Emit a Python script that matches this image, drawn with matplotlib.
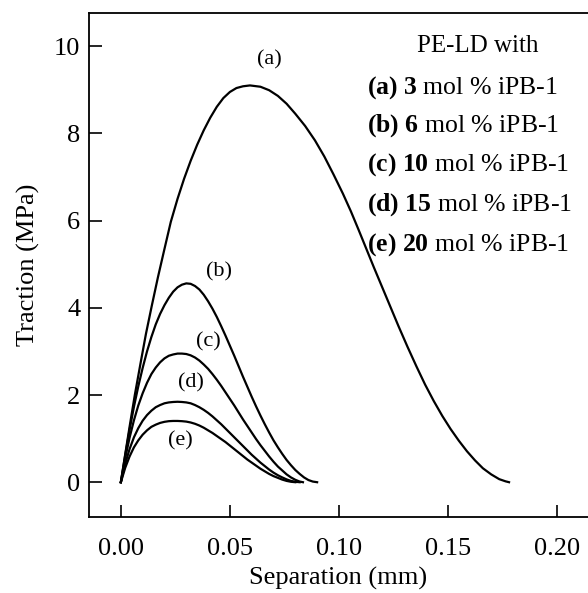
import matplotlib
matplotlib.use("Agg")
import matplotlib.pyplot as plt

plt.rcParams['font.family'] = ['Liberation Serif', 'DejaVu Serif']
plt.rcParams['mathtext.fontset'] = 'custom'
plt.rcParams['mathtext.rm'] = 'Liberation Serif'
plt.rcParams['mathtext.bf'] = 'Liberation Serif:bold'

# separation (mm) and traction (MPa)
sep_a = [0, 0.002, 0.004, 0.0064, 0.009, 0.0115, 0.0142, 0.017, 0.020, 0.0229, 0.026, 0.029,
         0.032, 0.035, 0.038, 0.041, 0.044, 0.047, 0.050, 0.053, 0.056, 0.0592, 0.064, 0.068,
         0.072, 0.076, 0.080, 0.0845, 0.089, 0.0933, 0.0975, 0.1018, 0.1055, 0.109, 0.1125, 0.116,
         0.1196, 0.1232, 0.1273, 0.1314, 0.1355, 0.1395, 0.1435, 0.1474, 0.1512, 0.155, 0.1587,
         0.1624, 0.166, 0.1698, 0.1735, 0.1764, 0.178]
trac_a = [0, 0.64, 1.27, 2.0, 2.72, 3.4, 4.05, 4.7, 5.35, 5.97, 6.5, 6.96,
          7.37, 7.74, 8.07, 8.36, 8.61, 8.81, 8.95, 9.04, 9.08, 9.10, 9.07, 8.99,
          8.86, 8.68, 8.45, 8.17, 7.84, 7.47, 7.06, 6.62, 6.21, 5.79, 5.36, 4.93,
          4.50, 4.07, 3.58, 3.11, 2.66, 2.24, 1.86, 1.52, 1.22, 0.95, 0.71,
          0.50, 0.32, 0.18, 0.07, 0.02, 0.0]

sep_b = [0, 0.002, 0.004, 0.006, 0.008, 0.010, 0.012, 0.014, 0.016, 0.018, 0.020, 0.022,
         0.024, 0.026, 0.028, 0.030, 0.032, 0.034, 0.036, 0.038, 0.040, 0.042, 0.044, 0.046,
         0.048, 0.050, 0.052, 0.054, 0.056, 0.058, 0.060, 0.062, 0.064, 0.066, 0.068, 0.070,
         0.072, 0.074, 0.076, 0.078, 0.080, 0.082, 0.084, 0.086, 0.088, 0.090]
trac_b = [0, 0.62, 1.2, 1.73, 2.2, 2.62, 3.0, 3.33, 3.62, 3.86, 4.06, 4.23,
          4.37, 4.47, 4.53, 4.56, 4.55, 4.5, 4.42, 4.3, 4.15, 3.98, 3.79, 3.58,
          3.36, 3.13, 2.9, 2.66, 2.42, 2.19, 1.96, 1.74, 1.53, 1.33, 1.14, 0.96,
          0.8, 0.65, 0.51, 0.39, 0.28, 0.19, 0.11, 0.05, 0.015, 0.0]

sep_c = [0, 0.002, 0.004, 0.006, 0.008, 0.010, 0.012, 0.014, 0.016, 0.018, 0.020, 0.022,
         0.024, 0.026, 0.028, 0.030, 0.032, 0.034, 0.036, 0.038, 0.040, 0.042, 0.044, 0.046,
         0.048, 0.050, 0.052, 0.054, 0.056, 0.058, 0.060, 0.062, 0.064, 0.066, 0.068, 0.070,
         0.072, 0.074, 0.076, 0.078, 0.080, 0.082, 0.0835]
trac_c = [0, 0.55, 1.02, 1.42, 1.76, 2.04, 2.28, 2.48, 2.63, 2.75, 2.84, 2.9,
          2.93, 2.95, 2.95, 2.94, 2.91, 2.86, 2.79, 2.7, 2.6, 2.48, 2.35, 2.21,
          2.06, 1.91, 1.76, 1.6, 1.44, 1.29, 1.14, 0.99, 0.85, 0.72, 0.59, 0.47,
          0.36, 0.27, 0.18, 0.11, 0.055, 0.015, 0.0]

sep_d = [0, 0.002, 0.004, 0.006, 0.008, 0.010, 0.012, 0.014, 0.016, 0.018, 0.020, 0.022,
         0.024, 0.026, 0.028, 0.030, 0.032, 0.034, 0.036, 0.038, 0.040, 0.042, 0.044, 0.046,
         0.048, 0.050, 0.052, 0.054, 0.056, 0.058, 0.060, 0.062, 0.064, 0.066, 0.068, 0.070,
         0.072, 0.074, 0.076, 0.078, 0.080, 0.082]
trac_d = [0, 0.42, 0.76, 1.03, 1.24, 1.41, 1.54, 1.64, 1.72, 1.77, 1.81, 1.83,
          1.84, 1.845, 1.84, 1.83, 1.81, 1.77, 1.72, 1.66, 1.59, 1.51, 1.42, 1.33,
          1.23, 1.13, 1.03, 0.93, 0.83, 0.73, 0.63, 0.54, 0.45, 0.37, 0.29, 0.22,
          0.16, 0.11, 0.065, 0.03, 0.01, 0.0]

sep_e = [0, 0.002, 0.004, 0.006, 0.008, 0.010, 0.012, 0.014, 0.016, 0.018, 0.020, 0.022,
         0.024, 0.026, 0.028, 0.030, 0.032, 0.034, 0.036, 0.038, 0.040, 0.042, 0.044, 0.046,
         0.048, 0.050, 0.052, 0.054, 0.056, 0.058, 0.060, 0.062, 0.064, 0.066, 0.068, 0.070,
         0.072, 0.074, 0.076, 0.078, 0.080]
trac_e = [0, 0.33, 0.59, 0.8, 0.96, 1.09, 1.19, 1.27, 1.32, 1.36, 1.385, 1.40,
          1.405, 1.405, 1.40, 1.39, 1.37, 1.34, 1.30, 1.25, 1.19, 1.13, 1.06, 0.99,
          0.92, 0.84, 0.76, 0.68, 0.60, 0.52, 0.45, 0.38, 0.31, 0.25, 0.19, 0.14,
          0.1, 0.06, 0.03, 0.01, 0.0]

curve_tags = ['(a)', '(b)', '(c)', '(d)', '(e)']
tag_x = [0.0683, 0.045, 0.040, 0.0321, 0.0271]
tag_y = [9.68, 4.82, 3.23, 2.27, 0.94]
legend_num = ['3', '6', '10', '15', '20']

fig = plt.figure(figsize=(5.88, 5.93), dpi=100)
ax = fig.add_axes([0.151, 0.128, 0.849, 0.85])

for xs, ys in [(sep_a, trac_a), (sep_b, trac_b), (sep_c, trac_c), (sep_d, trac_d), (sep_e, trac_e)]:
    ax.plot(xs, ys, color='black', lw=1.6)

for t, x, y in zip(curve_tags, tag_x, tag_y):
    ax.text(x, y, t, fontsize=16, ha='center', va='center')

ax.set_xlim(-0.0147, 0.2142)
ax.set_ylim(-0.8, 10.76)
ax.set_xticks([0.0, 0.05, 0.10, 0.15, 0.20])
ax.set_xticklabels(['0.00', '0.05', '0.10', '0.15', '0.20'])
ax.set_yticks([0, 2, 4, 6, 8, 10])
ax.tick_params(direction='in', length=9, width=1.2, labelsize=19)
ax.tick_params(axis='x', pad=15)
ax.tick_params(axis='y', pad=6)
ax.spines['right'].set_visible(False)
for s in ['left', 'bottom', 'top']:
    ax.spines[s].set_linewidth(1.3)

ax.set_xlabel('Separation (mm)', fontsize=19, labelpad=5)
ax.set_ylabel('Traction (MPa)', fontsize=19, labelpad=10)

ax.text(0.78, 0.935, 'PE-LD with', transform=ax.transAxes, fontsize=18, ha='center', va='center')
line_y = [0.852, 0.777, 0.699, 0.620, 0.541]
for t, n, y in zip(curve_tags, legend_num, line_y):
    ax.text(0.557, y, r'$\mathbf{' + t + r'}$ $\mathbf{' + n + r'}$ mol % iPB-1',
            transform=ax.transAxes, fontsize=18.5, ha='left', va='center')

fig.savefig('out.png', dpi=100)
